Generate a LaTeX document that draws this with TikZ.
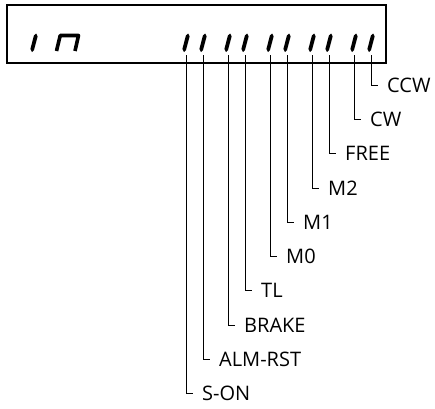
\documentclass[tikz,border=0pt]{standalone}
\usepackage{fontspec}
\setmainfont{Open Sans}
\usetikzlibrary{positioning}

\begin{document}
\begin{tikzpicture}[x=1pt, y=1pt,
  panel/.style={draw, line width=1.2pt},
  seg/.pic={\fill (0,0) -- (-1.6,3) -- (1.9,16.5) -- (4.2,18.5) -- (5.6,15.5) -- (2,2) -- cycle;},
  lbl/.style={anchor=west, inner xsep=9pt, inner ysep=0pt, text height=14.3pt, text depth=0pt, font=\fontsize{20}{20}\selectfont},
  lead/.style={line width=0.9pt}
]
  \useasboundingbox (0,0) rectangle (435,-408);
  \draw[panel] (7,-5) rectangle (386,-63);

  % display text "in"
  \pic at (32,-52) {seg};
  \draw[line width=3.6pt, line join=round] (56.5,-51) -- (60.2,-35.5) -- (78.5,-35.5) -- (75,-51);

  % one bar per input bit
  \pic at (184,-52) {seg};
  \pic at (201,-52) {seg};
  \pic at (226,-52) {seg};
  \pic at (243,-52) {seg};
  \pic at (268,-52) {seg};
  \pic at (285,-52) {seg};
  \pic at (310,-52) {seg};
  \pic at (327,-52) {seg};
  \pic at (352,-52) {seg};
  \pic at (369,-52) {seg};

  \coordinate (son-top) at (186,-55);
  \coordinate (alm-top) at (203,-55);
  \coordinate (brake-top) at (228,-55);
  \coordinate (tl-top) at (245,-55);
  \coordinate (mz-top) at (270,-55);
  \coordinate (mo-top) at (287,-55);
  \coordinate (mt-top) at (312,-55);
  \coordinate (free-top) at (329,-55);
  \coordinate (cw-top) at (354,-55);
  \coordinate (ccw-top) at (371,-55);

  \node[lbl] (son) at (193,-393) {S-ON};
  \node[lbl] (alm) at (210,-359) {ALM-RST};
  \node[lbl] (brake) at (235,-325) {BRAKE};
  \node[lbl] (tl) at (252,-290) {TL};
  \node[lbl] (mz) at (277,-256) {M0};
  \node[lbl] (mo) at (294,-222) {M1};
  \node[lbl] (mt) at (319,-188) {M2};
  \node[lbl] (free) at (336,-153) {FREE};
  \node[lbl] (cw) at (361,-119) {CW};
  \node[lbl] (ccw) at (378,-85) {CCW};

  \draw[lead] (son-top) |- (son.west);
  \draw[lead] (alm-top) |- (alm.west);
  \draw[lead] (brake-top) |- (brake.west);
  \draw[lead] (tl-top) |- (tl.west);
  \draw[lead] (mz-top) |- (mz.west);
  \draw[lead] (mo-top) |- (mo.west);
  \draw[lead] (mt-top) |- (mt.west);
  \draw[lead] (free-top) |- (free.west);
  \draw[lead] (cw-top) |- (cw.west);
  \draw[lead] (ccw-top) |- (ccw.west);
\end{tikzpicture}
\end{document}
